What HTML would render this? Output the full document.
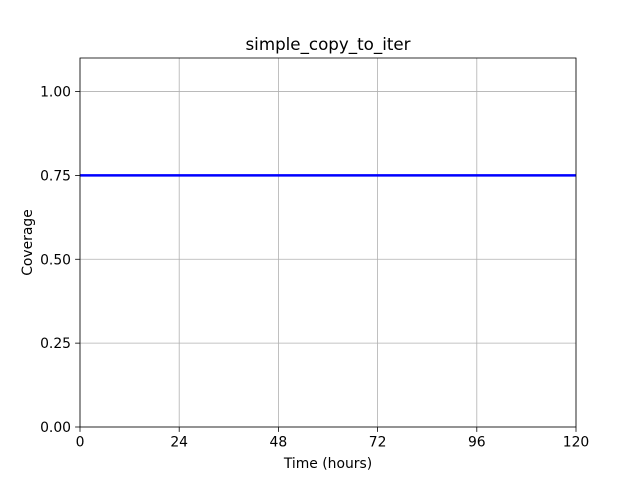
<!DOCTYPE html>
<html><head><meta charset="utf-8"><style>
body{margin:0;background:#fff;}
svg{display:block;font-family:"DejaVu Sans","Liberation Sans",sans-serif;}
</style></head><body>
<svg id="chart" width="640" height="480"></svg>
<script>
const xTicks=[0,24,48,72,96,120];
const yTicks=[0,0.25,0.5,0.75,1.0];
const yTickLabels=["0.00","0.25","0.50","0.75","1.00"];
const seriesX=[0,120];
const seriesY=[0.75,0.75];
const L=80,R=576,T=58,B=427,xMax=120,yMax=1.1;
const sx=v=>L+(v/xMax)*(R-L);
const sy=v=>B-(v/yMax)*(B-T);
const NS="http://www.w3.org/2000/svg";
const svg=document.getElementById('chart');
function mk(tag,attrs,txt){const e=document.createElementNS(NS,tag);for(const k in attrs)e.setAttribute(k,attrs[k]);if(txt!==undefined)e.textContent=txt;svg.appendChild(e);return e;}
xTicks.forEach((v,i)=>{
  const g=mk('line',{x1:sx(v),x2:sx(v),y1:T,y2:B,stroke:'#b0b0b0','stroke-width':0.8});
  
  
  const t=mk('line',{x1:sx(v),x2:sx(v),y1:B,y2:B+4.9,stroke:'#000','stroke-width':0.8});
  
  
  const l=mk('text',{x:sx(v),y:B+19.5,'text-anchor':'middle','font-size':13.9},String(v));
  
  
});
yTicks.forEach((v,i)=>{
  const g=mk('line',{x1:L,x2:R,y1:sy(v),y2:sy(v),stroke:'#b0b0b0','stroke-width':0.8});
  
  
  const t=mk('line',{x1:L-4.9,x2:L,y1:sy(v),y2:sy(v),stroke:'#000','stroke-width':0.8});
  
  
  const l=mk('text',{x:L-9,y:sy(v)+5,'text-anchor':'end','font-size':13.9},yTickLabels[i]);
  
  
});
const pts=seriesX.map((x,i)=>sx(x)+','+sy(seriesY[i])).join(' ');
const line=mk('polyline',{points:pts,fill:'none',stroke:'#0000ff','stroke-width':2.5});


const frame=mk('rect',{x:L,y:T,width:R-L,height:B-T,fill:'none',stroke:'#000','stroke-width':0.8});


const title=mk('text',{x:(L+R)/2,y:T-8,'text-anchor':'middle','font-size':16.7},'simple_copy_to_iter');


const xl=mk('text',{x:(L+R)/2,y:468,'text-anchor':'middle','font-size':13.9},'Time (hours)');


const yl=mk('text',{x:32,y:(T+B)/2,'text-anchor':'middle','font-size':13.9,transform:'rotate(-90 32 '+((T+B)/2)+')'},'Coverage');


</script>
</body></html>
